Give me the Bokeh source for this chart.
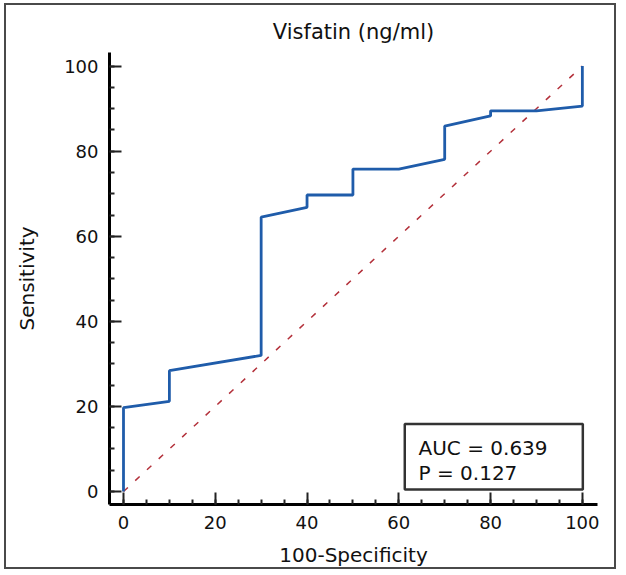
from bokeh.plotting import figure
from bokeh.models import Range1d, BoxAnnotation, Label, SingleIntervalTicker
from bokeh.embed import file_html
from bokeh.resources import INLINE

# ROC curve vertices (100-Specificity, Sensitivity)
fpr = [0, 0, 10, 10, 30, 30, 40, 40, 50, 50, 60, 70, 70, 80, 80, 90, 100, 100]
tpr = [0, 19.7, 21.2, 28.4, 32.0, 64.5, 66.8, 69.7, 69.7, 75.8, 75.8, 78.1, 85.9, 88.3, 89.5, 89.5, 90.6, 100]
ref_x = [0, 100]
ref_y = [0, 100]
title_text = "Visfatin (ng/ml)"
x_label = "100-Specificity"
y_label = "Sensitivity"
stats_lines = ["AUC = 0.639", "P = 0.127"]

FONT = "DejaVu Sans"

p = figure(width=612, height=566,
           x_range=Range1d(-3.05, 103.3), y_range=Range1d(-3.05, 103.2),
           output_backend="svg", toolbar_location=None,
           min_border_left=103, min_border_right=21,
           min_border_top=47, min_border_bottom=67,
           title=title_text)
p.styles = {"border": "2px solid #4a4a4a", "margin-left": "4px", "margin-top": "3px"}
p.grid.visible = False
p.outline_line_color = None
p.background_fill_color = "white"
p.border_fill_color = "white"

p.title.align = "center"
p.title.text_font = FONT
p.title.text_font_size = "21px"
p.title.text_font_style = "normal"
p.title.text_color = "#111111"
p.title.standoff = 17

for ax in (p.xaxis[0], p.yaxis[0]):
    ax.ticker = SingleIntervalTicker(interval=20, num_minor_ticks=4)
    ax.axis_line_width = 3
    ax.axis_line_color = "black"
    ax.major_tick_in = 12
    ax.major_tick_out = 0
    ax.minor_tick_in = 5
    ax.minor_tick_out = 0
    ax.major_tick_line_width = 2
    ax.minor_tick_line_width = 2
    ax.major_tick_line_color = "#222222"
    ax.minor_tick_line_color = "#222222"
    ax.major_label_text_font = FONT
    ax.major_label_text_font_size = "18px"
    ax.major_label_text_color = "#111111"
    ax.axis_label_text_font = FONT
    ax.axis_label_text_font_size = "20px"
    ax.axis_label_text_font_style = "normal"
    ax.axis_label_text_color = "#111111"

p.xaxis.axis_label = x_label
p.yaxis.axis_label = y_label
p.xaxis.major_label_standoff = 11
p.xaxis.axis_label_standoff = 11
p.yaxis.major_label_standoff = 11
p.yaxis.axis_label_standoff = 22

# chance diagonal
p.line(ref_x, ref_y, line_color="#b3303a", line_width=1.5, line_dash="6 10")
# ROC curve
p.line(fpr, tpr, line_color="#1f5caa", line_width=2.8)

# statistics box
p.add_layout(BoxAnnotation(left=61.3, right=100.1, bottom=0.5, top=15.9,
                           fill_color="white", fill_alpha=1.0,
                           line_color="#333333", line_alpha=1.0, line_width=2.5))
p.add_layout(Label(x=64.3, y=10.3, text=stats_lines[0], text_font=FONT,
                   text_font_size="20px", text_baseline="alphabetic",
                   text_color="#111111"))
p.add_layout(Label(x=64.3, y=4.45, text=stats_lines[1], text_font=FONT,
                   text_font_size="20px", text_baseline="alphabetic",
                   text_color="#111111"))

open("out.html", "w").write(file_html(p, INLINE))
